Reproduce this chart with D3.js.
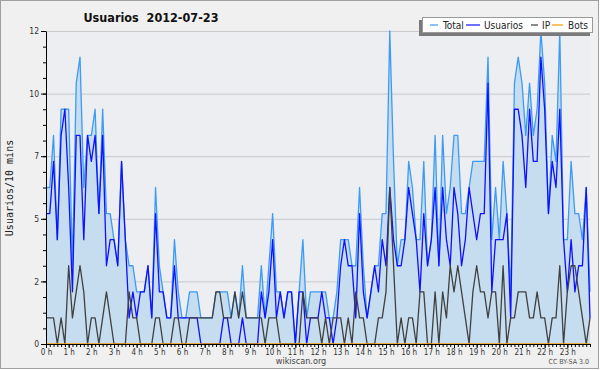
<!DOCTYPE html>
<html>
<head>
<meta charset="utf-8">
<script src="https://cdn.jsdelivr.net/npm/d3@7"></script>
<style>
  body { margin: 0; background: #fff; }
  svg { display: block; }
  text { font-family: "DejaVu Sans Condensed", "DejaVu Sans", sans-serif; font-stretch: condensed; }
</style>
</head>
<body>
<svg id="chart" width="600" height="370"></svg>
<script>
const chartTitle = 'Usuarios  2012-07-23'
const yTitle = 'Usuarios/10 mins'
const seriesNames = ['Total', 'Usuarios', 'IP', 'Bots']
const hourLabels = ['0 h', '1 h', '2 h', '3 h', '4 h', '5 h', '6 h', '7 h', '8 h', '9 h', '10 h', '11 h',
  '12 h', '13 h', '14 h', '15 h', '16 h', '17 h', '18 h', '19 h', '20 h', '21 h', '22 h', '23 h']
const yTickValues = [0, 2.4, 4.8, 7.2, 9.6, 12]
const yTickLabels = ['0', '2', '5', '7', '10', '12']

// one value every 10 minutes, 00:00 -> 24:00
const total = [6, 6, 8, 4, 9, 9, 9, 3, 10, 11, 6, 8, 8, 9, 5, 9, 5, 5, 4, 3,
  7, 4, 3, 3, 2, 2, 2, 3, 1, 6, 3, 2, 1, 1, 4, 2, 1, 1, 2, 2,
  2, 1, 1, 1, 1, 2, 2, 2, 2, 1, 2, 1, 3, 1, 1, 1, 1, 3, 1, 3,
  5, 2, 2, 1, 2, 2, 0, 2, 4, 1, 2, 2, 2, 2, 2, 1, 1, 2, 4, 4,
  4, 3, 3, 6, 3, 1, 2, 3, 3, 5, 5, 12, 7, 3, 4, 4, 7, 6, 4, 4,
  7, 3, 4, 8, 3, 8, 5, 6, 8, 8, 5, 5, 6, 7, 7, 7, 7, 11, 4, 6,
  4, 7, 5, 2, 10, 11, 10, 8, 10, 8, 9, 12, 10, 5, 8, 7, 12, 4, 4, 7,
  5, 5, 4, 6, 2]
const usuarios = [5, 5, 7, 4, 8, 9, 6, 2, 8, 8, 4, 8, 7, 8, 5, 8, 3, 4, 4, 3,
  7, 4, 1, 2, 1, 2, 2, 3, 1, 5, 2, 2, 1, 1, 3, 1, 1, 1, 1, 1,
  1, 0, 0, 0, 0, 0, 0, 1, 1, 0, 0, 0, 1, 0, 0, 0, 0, 2, 1, 2,
  4, 1, 2, 1, 2, 2, 0, 2, 2, 0, 1, 1, 1, 2, 1, 1, 0, 1, 3, 4,
  3, 3, 1, 5, 2, 1, 2, 3, 2, 4, 3, 6, 4, 3, 3, 4, 6, 5, 4, 2,
  5, 3, 4, 6, 3, 6, 4, 3, 6, 5, 3, 4, 6, 5, 4, 5, 5, 10, 2, 4,
  4, 4, 5, 1, 9, 9, 8, 6, 9, 7, 7, 11, 9, 5, 7, 6, 9, 4, 2, 4,
  2, 3, 3, 6, 1]
const ip = [1, 1, 1, 0, 1, 0, 3, 1, 2, 3, 2, 0, 1, 1, 0, 1, 2, 1, 0, 0,
  0, 0, 2, 1, 1, 0, 0, 0, 0, 1, 1, 0, 0, 0, 1, 1, 0, 0, 1, 1,
  1, 1, 1, 1, 1, 2, 2, 1, 1, 1, 2, 1, 2, 1, 1, 1, 1, 1, 0, 1,
  1, 1, 0, 0, 0, 0, 0, 0, 2, 1, 1, 1, 1, 0, 1, 0, 1, 1, 1, 0,
  1, 0, 2, 1, 1, 0, 0, 0, 1, 1, 2, 6, 3, 0, 1, 0, 1, 1, 0, 2,
  2, 0, 0, 2, 0, 2, 1, 3, 2, 3, 2, 1, 0, 2, 3, 2, 2, 1, 2, 2,
  0, 3, 0, 1, 1, 2, 2, 2, 1, 1, 2, 1, 1, 0, 1, 1, 3, 0, 2, 3,
  3, 2, 1, 0, 1]
const bots = [0, 0, 0, 0, 0, 0, 0, 0, 0, 0, 0, 0, 0, 0, 0, 0, 0, 0, 0, 0,
  0, 0, 0, 0, 0, 0, 0, 0, 0, 0, 0, 0, 0, 0, 0, 0, 0, 0, 0, 0,
  0, 0, 0, 0, 0, 0, 0, 0, 0, 0, 0, 0, 0, 0, 0, 0, 0, 0, 0, 0,
  0, 0, 0, 0, 0, 0, 0, 0, 0, 0, 0, 0, 0, 0, 0, 0, 0, 0, 0, 0,
  0, 0, 0, 0, 0, 0, 0, 0, 0, 0, 0, 0, 0, 0, 0, 0, 0, 0, 0, 0,
  0, 0, 0, 0, 0, 0, 0, 0, 0, 0, 0, 0, 0, 0, 0, 0, 0, 0, 0, 0,
  0, 0, 0, 0, 0, 0, 0, 0, 0, 0, 0, 0, 0, 0, 0, 0, 0, 0, 0, 0,
  0, 0, 0, 0, 0]

const colors = { Total: '#3c9bf5', Usuarios: '#1010ff', IP: '#404040', Bots: '#ff9c00' }

const dim = { left: 46, right: 590, top: 31, bottom: 344 }
const svg = d3.select('#chart')

// frame + plot background
svg.append('rect').attr('x', 0.5).attr('y', 0.5).attr('width', 598).attr('height', 368)
  .attr('fill', '#f0f0f0').attr('stroke', '#a0a0a0')
svg.append('rect')
  .attr('x', dim.left).attr('y', dim.top)
  .attr('width', dim.right - dim.left).attr('height', dim.bottom - dim.top)
  .attr('fill', '#eceef1')

const xScale = d3.scaleLinear().domain([0, 144]).range([dim.left, dim.right])
const yScale = d3.scaleLinear().domain([0, 12]).range([dim.bottom, dim.top])

// grid
svg.append('g')
  .attr('transform', `translate(${dim.left},0)`)
  .call(d3.axisLeft(yScale).tickValues(yTickValues).tickSize(-(dim.right - dim.left)).tickFormat(''))
  .call(g => g.select('.domain').remove())
  .selectAll('line').attr('stroke', '#c8c8cc')

const series = { Total: total, Usuarios: usuarios, IP: ip, Bots: bots }

// area under total
svg.append('path')
  .datum(total)
  .attr('fill', '#c6ddf0')
  .attr('d', d3.area().x((d, i) => xScale(i)).y0(yScale(0)).y1(d => yScale(d)))

seriesNames.forEach(name => {
  svg.append('path')
    .datum(series[name])
    .attr('fill', 'none')
    .attr('stroke', colors[name])
    .attr('stroke-width', 1.3)
    .attr('stroke-linejoin', 'round')
    .attr('d', d3.line().x((d, i) => xScale(i)).y(d => yScale(d)))
})

// y axis: minor ticks every 0.6, labelled ticks every 2.4
const yAxis = svg.append('g').attr('transform', `translate(${dim.left},0)`)
yAxis.call(d3.axisLeft(yScale).tickValues(d3.range(0, 12.01, 0.6)).tickSize(3).tickFormat('').tickSizeOuter(0))
yAxis.append('g')
  .call(d3.axisLeft(yScale).tickValues(yTickValues).tickSize(5).tickPadding(2)
    .tickFormat((d, i) => yTickLabels[i]).tickSizeOuter(0))
  .call(g => g.select('.domain').remove())
yAxis.selectAll('line').attr('stroke', '#000')
yAxis.select('.domain').attr('stroke', '#000')
yAxis.selectAll('text').attr('font-size', 8.5).attr('fill', '#333')
  .style('font-family', '"DejaVu Sans Condensed","DejaVu Sans",sans-serif')

// x axis: ticks every 10 minutes, labels every hour
const xAxis = svg.append('g').attr('transform', `translate(0,${dim.bottom})`)
xAxis.call(d3.axisBottom(xScale).tickValues(d3.range(0, 145)).tickSize(3).tickFormat('').tickSizeOuter(0))
xAxis.append('g')
  .call(d3.axisBottom(xScale).tickValues(d3.range(0, 144, 6)).tickSize(4).tickPadding(1)
    .tickFormat((d, i) => hourLabels[i]).tickSizeOuter(0))
  .call(g => g.select('.domain').remove())
xAxis.selectAll('line').attr('stroke', '#000')
xAxis.select('.domain').attr('stroke', '#000')
xAxis.selectAll('text').attr('font-size', 8).attr('fill', '#333')
  .style('font-family', '"DejaVu Sans Condensed","DejaVu Sans",sans-serif')

// titles
svg.append('text').attr('x', 151).attr('y', 22).attr('text-anchor', 'middle')
  .attr('font-size', 12.5).attr('font-weight', 'bold').attr('fill', '#111')
  .style('white-space', 'pre')
  .text(chartTitle)
svg.append('text')
  .attr('transform', 'translate(13,188) rotate(-90)')
  .attr('text-anchor', 'middle').attr('font-size', 10).attr('fill', '#222')
  .style('font-family', '"DejaVu Sans Mono",monospace').style('font-stretch', 'normal')
  .text(yTitle)
svg.append('text').attr('x', 301).attr('y', 364).attr('text-anchor', 'middle')
  .attr('font-size', 9).attr('fill', '#444').text('wikiscan.org')
svg.append('text').attr('x', 589).attr('y', 364).attr('text-anchor', 'end')
  .attr('font-size', 7).attr('fill', '#555').text('CC BY-SA 3.0')

// legend with shadow
const legend = svg.append('g')
legend.append('rect').attr('x', 419).attr('y', 20).attr('width', 171).attr('height', 16).attr('fill', '#7a7a7a')
legend.append('rect').attr('x', 422.5).attr('y', 17.5).attr('width', 170).attr('height', 15)
  .attr('fill', '#fff').attr('stroke', '#9a9a9a')
const legendLine = [[430, 438], [466, 480], [531, 538], [552, 563]]
const legendText = [443, 484, 542, 568]
seriesNames.forEach((name, i) => {
  legend.append('line').attr('x1', legendLine[i][0]).attr('x2', legendLine[i][1])
    .attr('y1', 25).attr('y2', 25).attr('stroke', colors[name]).attr('stroke-width', 1.2)
  legend.append('text').attr('x', legendText[i]).attr('y', 28.5)
    .attr('font-size', 10).attr('fill', '#222').text(name)
})
</script>
</body>
</html>
